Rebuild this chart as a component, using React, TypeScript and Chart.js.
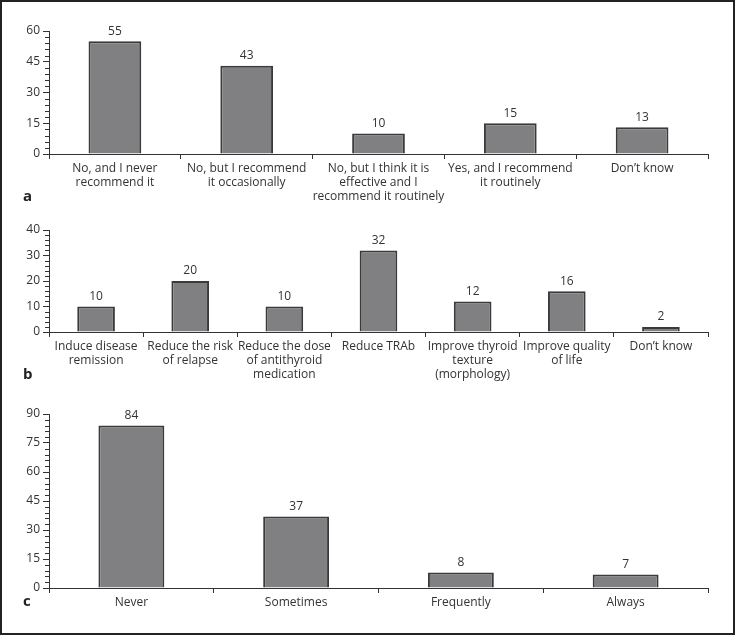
import React, { useEffect, useRef } from "react";
import { Chart, registerables } from "chart.js";

Chart.register(...registerables);

const FONT = "'Open Sans', 'Noto Sans', sans-serif";
const INK = "#333333";
const BAR_FILL = "#808083";
const BAR_EDGE = "#3a3a3a";

// Panel a
const categoriesA = [
  ["No, and I never", "recommend it"],
  ["No, but I recommend", "it occasionally"],
  ["No, but I think it is", "effective and I", "recommend it routinely"],
  ["Yes, and I recommend", "it routinely"],
  ["Don’t know"],
];
const valuesA = [55, 43, 10, 15, 13];
const yMaxA = 60;
const majorStepA = 15;
const minorStepA = 3;

// Panel b
const categoriesB = [
  ["Induce disease", "remission"],
  ["Reduce the risk", "of relapse"],
  ["Reduce the dose", "of antithyroid", "medication"],
  ["Reduce TRAb"],
  ["Improve thyroid", "texture", "(morphology)"],
  ["Improve quality", "of life"],
  ["Don’t know"],
];
const valuesB = [10, 20, 10, 32, 12, 16, 2];
const yMaxB = 40;
const majorStepB = 10;
const minorStepB = 2;

// Panel c
const categoriesC = ["Never", "Sometimes", "Frequently", "Always"];
const valuesC = [84, 37, 8, 7];
const yMaxC = 90;
const majorStepC = 15;
const minorStepC = 3;

type PanelProps = {
  labels: any[];
  values: number[];
  yMax: number;
  major: number;
  minor: number;
  top: number;
  height: number;
  areaTop: number;
  areaBottom: number;
};

function Panel(props: PanelProps) {
  const ref = useRef<HTMLCanvasElement | null>(null);
  useEffect(() => {
    if (!ref.current) return;
    const { labels, values, yMax, major, minor, height, areaTop, areaBottom } = props;
    const extras = {
      id: "extras",
      afterDraw(chart: any) {
        const ctx = chart.ctx;
        const y = chart.scales.y;
        ctx.save();
        ctx.strokeStyle = INK;
        ctx.lineWidth = 1;
        for (let v = 0; v <= yMax + 1e-9; v += minor) {
          if (Math.abs(v % major) < 1e-9) continue;
          const py = Math.round(y.getPixelForValue(v)) + 0.5;
          ctx.beginPath();
          ctx.moveTo(y.right - 4, py);
          ctx.lineTo(y.right, py);
          ctx.stroke();
        }
        ctx.restore();
      },
      afterDatasetsDraw(chart: any) {
        const ctx = chart.ctx;
        const meta = chart.getDatasetMeta(0);
        ctx.save();
        ctx.fillStyle = INK;
        ctx.font = `12px ${FONT}`;
        ctx.textAlign = "center";
        ctx.textBaseline = "bottom";
        meta.data.forEach((bar: any, i: number) => {
          ctx.fillText(String(values[i]), bar.x, bar.y - 4);
        });
        ctx.restore();
      },
    };
    const chart = new Chart(ref.current, {
      type: "bar",
      data: {
        labels,
        datasets: [
          {
            data: values,
            backgroundColor: BAR_FILL,
            borderColor: BAR_EDGE,
            borderWidth: 2,
            barPercentage: 0.4,
            categoryPercentage: 1,
          },
        ],
      },
      options: {
        animation: false,
        responsive: false,
        maintainAspectRatio: false,
        layout: { padding: { top: areaTop, right: 27, left: 0, bottom: 0 } },
        plugins: { legend: { display: false }, tooltip: { enabled: false } },
        scales: {
          x: {
            grid: {
              display: true,
              drawOnChartArea: false,
              tickLength: 5,
              tickColor: INK,
              offset: true,
            },
            border: { display: true, color: INK, width: 1 },
            ticks: {
              color: INK,
              font: { family: FONT, size: 12 },
              padding: 2,
              maxRotation: 0,
              autoSkip: false,
            },
            afterFit: (s: any) => {
              s.height = height - areaBottom;
            },
          },
          y: {
            min: 0,
            max: yMax,
            ticks: {
              stepSize: major,
              color: INK,
              font: { family: FONT, size: 12 },
              padding: 3,
            },
            grid: {
              display: true,
              drawOnChartArea: false,
              tickLength: 6,
              tickColor: INK,
            },
            border: { display: true, color: INK, width: 1 },
            afterFit: (s: any) => {
              s.width = 49;
            },
          },
        },
      },
      plugins: [extras],
    });
    return () => chart.destroy();
  }, []);
  return (
    <canvas
      ref={ref}
      width={735}
      height={props.height}
      style={{ position: "absolute", left: 0, top: props.top, display: "block" }}
    />
  );
}

const letterStyle: React.CSSProperties = {
  position: "absolute",
  fontFamily: FONT,
  fontWeight: "bold",
  fontSize: 15,
  lineHeight: "15px",
  color: "#222",
};

export default function App() {
  return (
    <div
      style={{
        position: "absolute",
        left: 0,
        top: 0,
        width: 735,
        height: 635,
        background: "#fff",
      }}
    >
      <Panel
        labels={categoriesA}
        values={valuesA}
        yMax={yMaxA}
        major={majorStepA}
        minor={minorStepA}
        top={0}
        height={210}
        areaTop={31}
        areaBottom={154}
      />
      <Panel
        labels={categoriesB}
        values={valuesB}
        yMax={yMaxB}
        major={majorStepB}
        minor={minorStepB}
        top={210}
        height={190}
        areaTop={20}
        areaBottom={122}
      />
      <Panel
        labels={categoriesC}
        values={valuesC}
        yMax={yMaxC}
        major={majorStepC}
        minor={minorStepC}
        top={400}
        height={233}
        areaTop={14}
        areaBottom={188}
      />
      <div style={{ ...letterStyle, left: 23, top: 188 }}>a</div>
      <div style={{ ...letterStyle, left: 23, top: 366 }}>b</div>
      <div style={{ ...letterStyle, left: 23, top: 593 }}>c</div>
      <div
        style={{
          position: "absolute",
          left: 0,
          top: 0,
          width: 735,
          height: 635,
          boxSizing: "border-box",
          border: "2px solid #222",
          pointerEvents: "none",
        }}
      />
    </div>
  );
}
